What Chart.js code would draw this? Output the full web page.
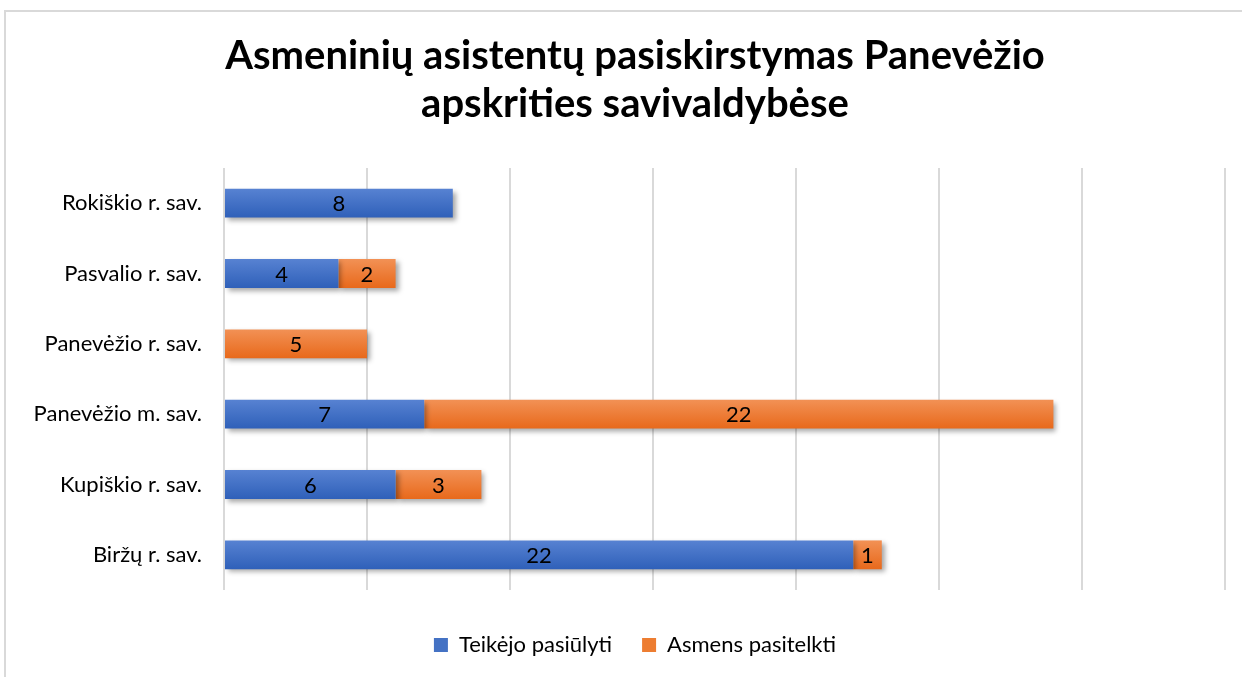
<!DOCTYPE html>
<html>
<head>
<meta charset="utf-8">
<script src="https://cdn.jsdelivr.net/npm/chart.js@4.4.1/dist/chart.umd.min.js"></script>
<style>
  html, body { margin: 0; padding: 0; background: #fff; }
  #frame {
    position: absolute; left: 4px; top: 10px; width: 1300px; height: 700px;
    border-left: 2px solid #d9d9d9; border-top: 2px solid #d9d9d9;
  }
  #wrap { position: absolute; left: 0; top: 0; width: 1242px; height: 677px; }
</style>
</head>
<body>
<div id="frame"></div>
<div id="wrap"><canvas id="chart" width="1242" height="677"></canvas></div>
<script>
const municipalities = [
  "Rokiškio r. sav.",
  "Pasvalio r. sav.",
  "Panevėžio r. sav.",
  "Panevėžio m. sav.",
  "Kupiškio r. sav.",
  "Biržų r. sav."
];
const offeredByProvider = [8, 4, 0, 7, 6, 22];
const engagedByPerson = [0, 2, 5, 22, 3, 1];
const seriesNames = ["Teikėjo pasiūlyti", "Asmens pasitelkti"];

const FONT = "Lato, 'Open Sans', sans-serif";

// vertical gradient per bar, light on top, darker at the bottom
const barFill = (top, bottom, flat) => (c) => {
  const el = c.chart.getDatasetMeta(c.datasetIndex).data[c.dataIndex];
  if (!el || el.y === undefined || isNaN(el.y)) return flat;
  const h = el.height || 29;
  const g = c.chart.ctx.createLinearGradient(0, el.y - h / 2, 0, el.y + h / 2);
  g.addColorStop(0, top);
  g.addColorStop(1, bottom);
  return g;
};

const shadowPlugin = {
  id: "barShadow",
  beforeDatasetsDraw(chart) {
    const ctx = chart.ctx;
    ctx.save();
    ctx.shadowColor = "rgba(0,0,0,0.35)";
    ctx.shadowBlur = 5;
    ctx.shadowOffsetX = 3;
    ctx.shadowOffsetY = 3;
  },
  afterDatasetsDraw(chart) {
    chart.ctx.restore();
  }
};

// category labels are longer than the axis box; let them use the left padding
const wideLabels = {
  id: "wideLabels",
  afterLayout(chart) {
    chart.scales.y.left = 0;
  }
};

const valueLabels = {
  id: "valueLabels",
  afterDraw(chart) {
    const ctx = chart.ctx;
    ctx.save();
    ctx.font = "22px " + FONT;
    ctx.fillStyle = "#000";
    ctx.textAlign = "center";
    ctx.textBaseline = "middle";
    chart.data.datasets.forEach((ds, di) => {
      chart.getDatasetMeta(di).data.forEach((bar, i) => {
        const v = ds.data[i];
        if (!v) return;
        ctx.fillText(String(v), (bar.x + bar.base) / 2, bar.y + 1);
      });
    });
    ctx.restore();
  }
};

const chart = new Chart(document.getElementById("chart"), {
  type: "bar",
  data: {
    labels: municipalities,
    datasets: [
      {
        label: seriesNames[0],
        data: offeredByProvider,
        backgroundColor: barFill("#5782d2", "#2f60b9", "#4472c4"),
        categoryPercentage: 0.82,
        barPercentage: 0.5
      },
      {
        label: seriesNames[1],
        data: engagedByPerson,
        backgroundColor: barFill("#f29155", "#e8691b", "#ed7d31"),
        categoryPercentage: 0.82,
        barPercentage: 0.5
      }
    ]
  },
  options: {
    indexAxis: "y",
    responsive: false,
    animation: false,
    layout: { padding: { left: 45, right: 17, top: 0, bottom: 11 } },
    scales: {
      x: {
        stacked: true,
        min: 0,
        max: 35,
        ticks: { display: false, stepSize: 5 },
        grid: { color: "#d9d9d9", lineWidth: 2, drawTicks: false },
        border: { display: false },
        afterFit(axis) { axis.height = 14; }
      },
      y: {
        stacked: true,
        ticks: { color: "#000", font: { family: FONT, size: 22 }, padding: 22 },
        grid: { display: false, drawTicks: false },
        border: { display: false },
        afterFit(axis) { axis.width = 179; }
      }
    },
    plugins: {
      title: {
        display: true,
        text: ["Asmeninių asistentų pasiskirstymas Panevėžio", "apskrities savivaldybėse"],
        color: "#000",
        font: { family: FONT, size: 40, weight: "bold", lineHeight: 1.2 },
        padding: { top: 32, bottom: 40 }
      },
      legend: {
        position: "bottom",
        labels: {
          color: "#000",
          font: { family: FONT, size: 22 },
          boxWidth: 14,
          boxHeight: 14,
          padding: 30,
          useBorderRadius: false,
          generateLabels(c) {
            return c.data.datasets.map((ds, i) => ({
              text: ds.label,
              fillStyle: i === 0 ? "#4472c4" : "#ed7d31",
              strokeStyle: "rgba(0,0,0,0)",
              lineWidth: 0,
              datasetIndex: i
            }));
          }
        }
      },
      tooltip: { enabled: false }
    }
  },
  plugins: [shadowPlugin, wideLabels, valueLabels]
});
// second pass so each bar gradient knows its final position
chart.update();
</script>
</body>
</html>
